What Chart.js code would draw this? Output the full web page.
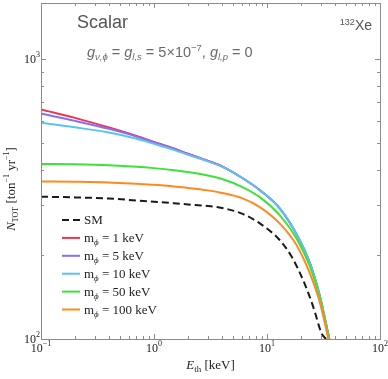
<!DOCTYPE html>
<html>
<head>
<meta charset="utf-8">
<script src="https://cdn.jsdelivr.net/npm/chart.js@4"></script>
<style>
  html, body { margin: 0; padding: 0; background: #fff; }
  canvas { display: block; }
</style>
</head>
<body>
<canvas id="rateChart" width="388" height="379"></canvas>
<script>
// thresholds E_th [keV] where the curves were read
const energies = [0.1, 0.2, 0.4, 0.7, 1, 1.5, 2, 3, 4, 6, 8.7, 13, 18.3, 24, 29.5, 33.8];
const smEnergies = [0.1, 0.2, 0.4, 0.7, 1, 1.5, 2, 3, 4, 6, 8.7, 13, 16.6, 20.9, 25.7, 30.5, 33.3];

// N_TOT [ton^-1 yr^-1]
const smRate = [322, 320, 317, 312, 309, 305, 302, 298, 293.5, 280, 258, 225, 196, 162, 130, 104.5, 100];
const rate1keV = [659, 615, 568, 530, 505, 478, 458, 432, 413, 376, 339, 292, 236, 186, 141, 110];
const rate5keV = [637, 600, 562, 528, 503, 477, 457, 432, 413, 376, 339, 292, 236, 186, 141, 110];
const rate10keV = [591, 569, 545, 518, 497, 473, 454, 430, 412, 376, 339, 292, 236, 186, 141, 110];
const rate50keV = [421, 420, 417, 412, 407, 400, 394, 383, 372, 349, 320, 276, 228, 181, 139, 109];
const rate100keV = [365, 364, 362, 358, 355, 350, 346, 339, 332, 318, 295, 258, 216, 171, 134, 106];

// where each m_phi curve hits the bottom of the frame (N = 100)
const endEnergies = [35.6, 35.6, 35.6, 35.5, 34.9];

const masses = ['1', '5', '10', '50', '100'];
const colors = ['#e8374f', '#8b6cf2', '#5ac3f5', '#3de33a', '#ff8a1f'];
const xTickExps = [-1, 0, 1, 2];
const yTickExps = [2, 3];

const serif = '"Liberation Serif", "DejaVu Serif", serif';
const sans = '"Liberation Sans", Arial, sans-serif';

const datasets = [{
    label: 'SM',
    data: smEnergies.map((e, i) => ({ x: e, y: smRate[i] })),
    borderColor: '#1a1a1a',
    borderDash: [7, 4],
    order: 6
}];
[rate1keV, rate5keV, rate10keV, rate50keV, rate100keV].forEach((vals, i) => {
    const pts = energies.map((e, j) => ({ x: e, y: vals[j] }));
    pts.push({ x: endEnergies[i], y: 100 });
    datasets.push({
        label: masses[i],
        data: pts,
        borderColor: colors[i],
        order: 5 - i
    });
});

// draws pieces of text one after another: [text, font, dy]
function richText(ctx, parts, x, y, align) {
    let w = 0;
    parts.forEach(p => { ctx.font = p[1]; w += ctx.measureText(p[0]).width; });
    let cx = align === 'center' ? x - w / 2 : align === 'right' ? x - w : x;
    parts.forEach(p => {
        ctx.font = p[1];
        ctx.fillText(p[0], cx, y + (p[2] || 0));
        cx += ctx.measureText(p[0]).width;
    });
}

const framePlugin = {
    id: 'frame',
    afterDraw(chart) {
        const ctx = chart.ctx;
        const a = chart.chartArea;
        const xs = chart.scales.x, ys = chart.scales.y;
        ctx.save();
        ctx.textAlign = 'left';
        ctx.textBaseline = 'alphabetic';

        // frame
        ctx.strokeStyle = '#8c8c8c';
        ctx.lineWidth = 1;
        ctx.strokeRect(Math.round(a.left) + 0.5, Math.round(a.top) + 0.5,
            Math.round(a.right - a.left), Math.round(a.bottom - a.top));

        // inward ticks on all sides
        ctx.beginPath();
        for (let n = -1; n <= 2; n++) {
            for (let k = 1; k <= 9; k++) {
                const v = k * Math.pow(10, n);
                if (v > xs.max + 1e-9) break;
                const px = Math.round(xs.getPixelForValue(v)) + 0.5;
                const len = k === 1 ? 5 : 3;
                ctx.moveTo(px, a.bottom); ctx.lineTo(px, a.bottom - len);
                ctx.moveTo(px, a.top); ctx.lineTo(px, a.top + len);
            }
        }
        for (let n = 2; n <= 3; n++) {
            for (let k = 1; k <= 9; k++) {
                const v = k * Math.pow(10, n);
                if (v > ys.max) break;
                const py = Math.round(ys.getPixelForValue(v)) + 0.5;
                const len = k === 1 ? 5 : 3;
                ctx.moveTo(a.left, py); ctx.lineTo(a.left + len, py);
                ctx.moveTo(a.right, py); ctx.lineTo(a.right - len, py);
            }
        }
        ctx.stroke();

        // tick labels
        ctx.fillStyle = '#222';
        xTickExps.forEach(e => {
            const px = xs.getPixelForValue(Math.pow(10, e));
            const ex = e < 0 ? '\u2212' + Math.abs(e) : String(e);
            richText(ctx, [['10', '12px ' + serif], [ex, '8px ' + serif, -6]], px, a.bottom + 13, 'center');
        });
        yTickExps.forEach(e => {
            const py = ys.getPixelForValue(Math.pow(10, e));
            richText(ctx, [['10', '12px ' + serif], [String(e), '8px ' + serif, -6]], a.left - 1, py + 4, 'right');
        });

        // axis titles
        richText(ctx, [['E', 'italic 13px ' + serif], ['th', '9px ' + serif, 3], [' [keV]', '13px ' + serif]],
            (a.left + a.right) / 2, 369, 'center');
        ctx.save();
        ctx.translate(15, 189);
        ctx.rotate(-Math.PI / 2);
        richText(ctx, [['N', 'italic 13px ' + serif], ['TOT', '8px ' + serif, 3], [' [ton', '13px ' + serif],
            ['\u22121', '8px ' + serif, -6], [' yr', '13px ' + serif], ['\u22121', '8px ' + serif, -6],
            [']', '13px ' + serif]], 0, 0, 'center');
        ctx.restore();

        // annotations
        ctx.fillStyle = '#555';
        richText(ctx, [['Scalar', '18px ' + sans]], 77, 28, 'left');
        richText(ctx, [['132', '9px ' + sans, -5], ['Xe', '14px ' + sans]], 372, 30, 'right');
        ctx.fillStyle = '#6a6a6a';
        const it = 'italic 14.5px ' + sans, sub = 'italic 9.5px ' + sans, rm = '14.5px ' + sans;
        richText(ctx, [['g', it], ['\u03bd,\u03d5', sub, 3], [' = ', rm], ['g', it], ['l,s', sub, 3],
            [' = 5\u00d710', rm], ['\u22127', '9.5px ' + sans, -6], [', ', rm], ['g', it], ['l,p', sub, 3],
            [' = 0', rm]], 87, 57, 'left');

        // legend
        chart.data.datasets.forEach((ds, i) => {
            const y = 220 + i * 17.9;
            ctx.strokeStyle = ds.borderColor;
            ctx.lineWidth = 2;
            ctx.setLineDash(ds.borderDash || []);
            ctx.beginPath();
            ctx.moveTo(62, y); ctx.lineTo(80, y);
            ctx.stroke();
            ctx.setLineDash([]);
            ctx.fillStyle = '#222';
            if (ds.label === 'SM') {
                richText(ctx, [['SM', '13px ' + serif]], 84, y + 4, 'left');
            } else {
                richText(ctx, [['m', '13px ' + serif], ['\u03d5', 'italic 9px ' + serif, 3],
                    [' = ' + ds.label + ' keV', '13px ' + serif]], 84, y + 4, 'left');
            }
        });
        ctx.restore();
    }
};

new Chart(document.getElementById('rateChart').getContext('2d'), {
    type: 'line',
    data: { datasets: datasets },
    options: {
        responsive: false,
        animation: false,
        devicePixelRatio: 1,
        layout: { padding: { left: 41, right: 8, top: 3, bottom: 40 } },
        elements: {
            point: { radius: 0 },
            line: { borderWidth: 2, cubicInterpolationMode: 'monotone', fill: false }
        },
        plugins: { legend: { display: false }, tooltip: { enabled: false } },
        scales: {
            x: { type: 'logarithmic', min: 0.1, max: 100, display: false },
            y: { type: 'logarithmic', min: 100, max: 1580, display: false }
        }
    },
    plugins: [framePlugin]
});
</script>
</body>
</html>
